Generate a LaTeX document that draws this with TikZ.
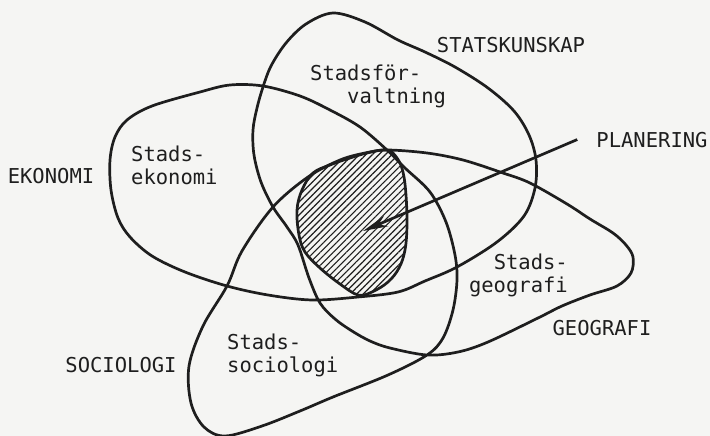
\documentclass[tikz,border=0pt]{standalone}
\usepackage{fontspec}
\newfontfamily\typewr{DejaVu Sans Mono}
\usepackage{tikz}
\usetikzlibrary{arrows.meta,patterns.meta}
\definecolor{paper}{HTML}{F5F5F3}
\definecolor{ink}{HTML}{1E1E1E}

\begin{document}
\begin{tikzpicture}[
  x=1pt, y=-1pt,
  lbl/.style={font=\typewr\fontsize{20.5}{22.5}\selectfont, text=ink, inner sep=0pt},
  outline/.style={draw=ink, line width=2.7pt, line join=round},
  hatch/.style={pattern={Lines[angle=45, distance=4.6pt, line width=1.2pt]}, pattern color=ink},
  arr/.style={-{Stealth[length=25pt, width=11pt]}, line width=2.7pt, draw=ink}
]
\fill[paper] (0,0) rectangle (710,436);
\useasboundingbox (0,0) rectangle (710,436);

% ---------- the four subject fields (one continuous stroke) ----------
\draw[outline] plot[smooth cycle, tension=0.55] coordinates {
  % ekonomi, lower rim
  (110,160) (111,190) (118,218) (130,237) (152,256) (185,272) (227,286)
  (268,295) (312,300) (358,297) (398,292) (425,281) (457,267)
  % statskunskap, right flank and top
  (497,242) (524,216) (535,188) (536,160) (529,135) (514,111) (488,88)
  (455,67) (425,52) (398,40) (365,22) (333,13)
  % statskunskap, left flank
  (306,24) (286,43) (271,66) (263,87) (257,108) (253,130) (254,155)
  (261,182) (273,207) (287,227) (298,245) (309,278) (320,303)
  % geografi, bottom, tip and top
  (335,319) (352,331) (370,341) (390,348) (427,355) (458,352) (488,342)
  (538,318) (562,306) (590,295) (617,286) (631,273) (633,257) (626,245)
  (613,233) (590,219) (567,204) (530,183) (503,173) (463,160) (427,153)
  % sociologi, left flank and bottom
  (387,150) (365,153) (340,160) (308,177) (273,207) (242,251) (227,286)
  (203,326) (189,366) (191,403) (204,427) (225,436) (262,426) (300,411)
  (333,397) (388,375) (427,355) (443,338) (453,310) (457,280) (455,255)
  % ekonomi, upper rim
  (446,222) (430,192) (405,168) (387,150) (360,127) (330,110) (300,96)
  (263,86) (230,85) (200,92) (152,106) (127,120) (115,137)
};

% ---------- planering (hatched core) ----------
\draw[outline, hatch] plot[smooth cycle, tension=0.6] coordinates {
  (387,150) (397,158) (403,172) (406,195) (407,225) (405,250) (399,268)
  (388,282) (372,292) (358,295) (340,284) (320,268) (305,252) (299,235)
  (297,210) (302,190) (313,173) (330,165) (347,159) (367,153)
};
\coordinate (aim) at (363,231);

% ---------- field names ----------
\node[lbl, anchor=base] (stats) at (511,53) {STATSKUNSKAP};
\node[lbl, anchor=base] (ekon) at (51,183) {EKONOMI};
\node[lbl, anchor=base] (soc) at (121,372) {SOCIOLOGI};
\node[lbl, anchor=base] (geo) at (602,335) {GEOGRAFI};
\node[lbl, anchor=base] (plan) at (652,147) {PLANERING};

% ---------- city subfields (base = last line) ----------
\node[lbl, align=left, anchor=base west] (forv) at (310,103) {Stadsför-\\\hphantom{Sta}valtning};
\node[lbl, align=left, anchor=base west] (sekon) at (131,184) {Stads-\\ekonomi};
\node[lbl, align=right, anchor=base east] (sgeo) at (568,292) {Stads-\\geografi};
\node[lbl, align=left, anchor=base west] (ssoc) at (227,372) {Stads-\\sociologi};

% ---------- pointer ----------
\draw[arr] ([xshift=-19pt]plan.west) -- (aim);
\end{tikzpicture}
\end{document}
